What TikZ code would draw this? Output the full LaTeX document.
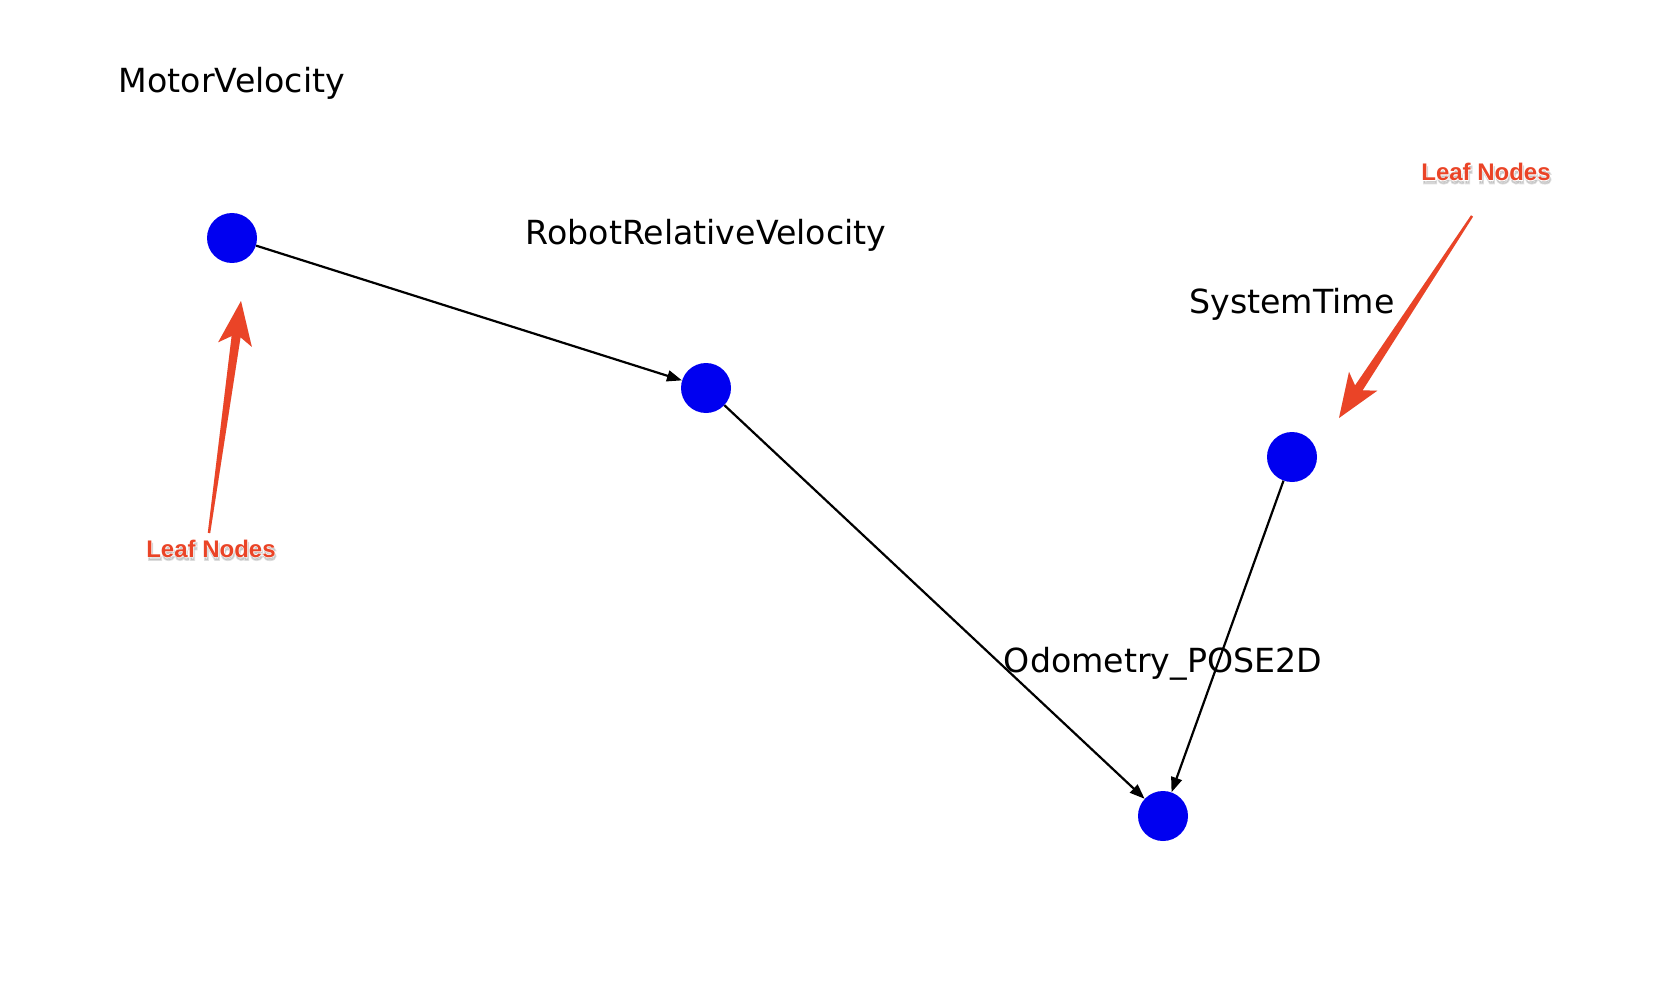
\documentclass[tikz,border=0pt]{standalone}
\usepackage{fontspec}
\setmainfont{DejaVu Sans}
\newfontfamily\leaffont{Liberation Sans}
\newfontfamily\leafrimfont{Liberation Sans}[BoldFeatures={FakeBold=4}]
\newfontfamily\leafhalofont{Liberation Sans}[BoldFeatures={FakeBold=7}]
\usetikzlibrary{arrows.meta,calc}

\definecolor{nodeblue}{RGB}{0,0,240}
\definecolor{callred}{RGB}{234,68,39}

\tikzset{
  vertex/.style={circle,fill=nodeblue,draw=none,minimum size=50pt,inner sep=0pt},
  vlabel/.style={anchor=base,inner sep=0pt,font=\fontsize{33.2}{38}\selectfont},
  edge/.style={draw=black,line width=2.2pt,-{Triangle[length=15pt,width=11pt]}},
  leaf/.style={anchor=base,inner sep=0pt,font=\leaffont\bfseries\fontsize{24}{28}\selectfont},
  leafrim/.style={anchor=base,inner sep=0pt,font=\leafrimfont\bfseries\fontsize{24}{28}\selectfont},
  leafhalo/.style={anchor=base,inner sep=0pt,font=\leafhalofont\bfseries\fontsize{24}{28}\selectfont},
}

% red callout text with a white rim and a soft grey drop shadow
\newcommand{\leaftag}[3]{%
  \node[leafhalo,text=black,opacity=0.12] at ($(#1)+(1,3)$) {#3};
  \node[leafrim,text=white] at (#1) {#3};
  \node[leaf,text=callred] (#2) at (#1) {#3};
}

% tapered callout arrow from a tail point to a tip point
\newcommand{\calloutarrow}[2]{%
  \coordinate (ca-b) at ($(#2)!36pt!(#1)$);
  \coordinate (ca-bb) at ($(#2)!44pt!(#1)$);
  \fill[black,opacity=0.12,shift={(1.5,2.5)}]
    ($(#1)!1.2pt!90:(#2)$) -- ($(ca-b)!4.5pt!90:(#2)$) -- ($(ca-bb)!17pt!90:(#2)$)
    -- (#2) -- ($(ca-bb)!17pt!-90:(#2)$) -- ($(ca-b)!4.5pt!-90:(#2)$)
    -- ($(#1)!1.2pt!-90:(#2)$) -- cycle;
  \fill[callred]
    ($(#1)!1.2pt!90:(#2)$) -- ($(ca-b)!4.5pt!90:(#2)$) -- ($(ca-bb)!17pt!90:(#2)$)
    -- (#2) -- ($(ca-bb)!17pt!-90:(#2)$) -- ($(ca-b)!4.5pt!-90:(#2)$)
    -- ($(#1)!1.2pt!-90:(#2)$) -- cycle;
}

\begin{document}
\begin{tikzpicture}[x=1pt,y=-1pt]
  \useasboundingbox[fill=white] (0,0) rectangle (1672,992);

  % graph vertices
  \node[vertex] (mv) at (232,238) {};
  \node[vertex] (rv) at (706,388) {};
  \node[vertex] (st) at (1292,457) {};
  \node[vertex] (od) at (1163,816) {};

  % vertex labels
  \node[vlabel] (mvl) at (232,93) {MotorVelocity};
  \node[vlabel] (rvl) at (706,244) {RobotRelativeVelocity};
  \node[vlabel] (stl) at (1292,313) {SystemTime};
  \node[vlabel] (odl) at (1163,672) {Odometry\_POSE2D};

  % dependencies
  \draw[edge] (mv) -- (rv);
  \draw[edge] (rv) -- (od);
  \draw[edge] (st) -- (od);

  % leaf annotations
  \coordinate (lt1) at (209,533);
  \coordinate (lp1) at (241,301);
  \calloutarrow{lt1}{lp1}
  \coordinate (lt2) at (1472,216);
  \coordinate (lp2) at (1339,418);
  \calloutarrow{lt2}{lp2}

  \coordinate (lbl1) at (211,557);
  \leaftag{lbl1}{leafa}{Leaf Nodes}
  \coordinate (lbl2) at (1486,180.5);
  \leaftag{lbl2}{leafb}{Leaf Nodes}
\end{tikzpicture}
\end{document}
